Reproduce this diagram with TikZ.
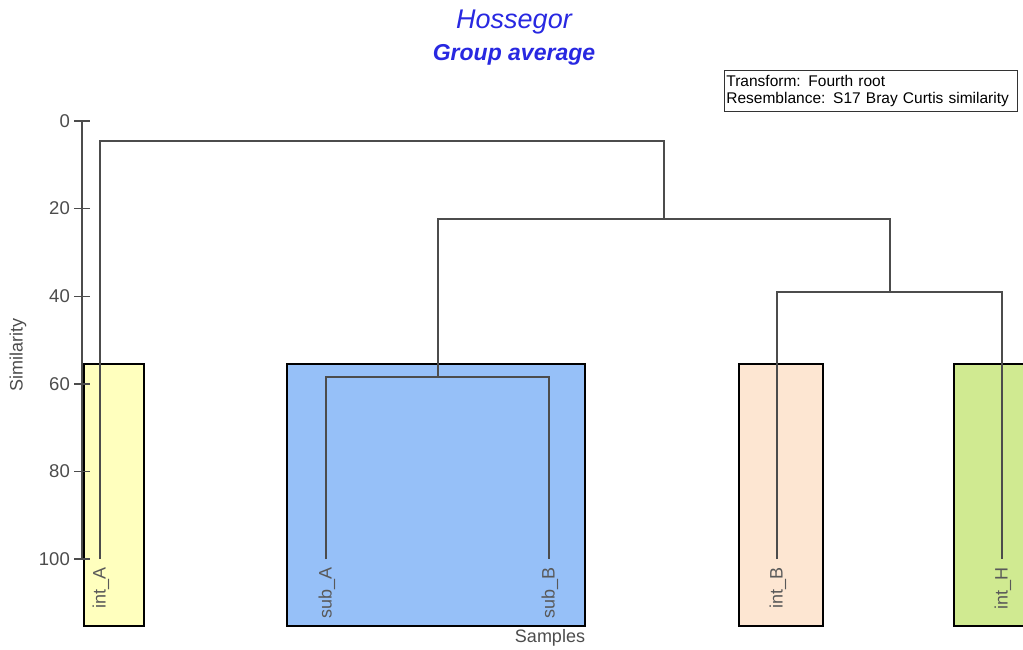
\documentclass[tikz,border=0pt]{standalone}
\usepackage{fontspec}
\setmainfont{Liberation Sans}
\begin{document}
\begin{tikzpicture}[x=1pt,y=-1pt,
  dline/.style={draw=black!70,line width=1.4pt},
  grp/.style={draw=black,line width=1.1pt},
  axlab/.style={font=\fontsize{18.5}{18.5}\selectfont,text=black!70,anchor=east,inner sep=0pt},
  leaflab/.style={font=\fontsize{18}{18}\selectfont,text=black!65,rotate=90,anchor=east,inner sep=0pt}]
\useasboundingbox (0,0) rectangle (1023,650);
% titles
\node[text={rgb,255:red,40;green,40;blue,225},font=\fontsize{27}{27}\selectfont\itshape] (title) at (514,22) {Hossegor};
\node[text={rgb,255:red,40;green,40;blue,225},font=\fontsize{23}{23}\selectfont\bfseries\itshape] (subtitle) at (514,55) {Group average};
\node[draw=black!80,line width=0.8pt,align=left,anchor=north west,inner xsep=2pt,inner ysep=2pt,font=\fontsize{15.5}{17.5}\selectfont,text width=289pt,minimum height=41pt] (legend) at (724,70) {\mbox{Transform: Fourth root}\\\mbox{Resemblance: S17 Bray Curtis similarity}};
% group boxes
\fill[fill={rgb,255:red,255;green,255;blue,190}] (84,364) rectangle (144,626);
\fill[fill={rgb,255:red,150;green,192;blue,248}] (287,364) rectangle (585,626);
\fill[fill={rgb,255:red,253;green,230;blue,210}] (739,364) rectangle (823,626);
\fill[fill={rgb,255:red,208;green,234;blue,145}] (954,364) rectangle (1026,626);
\draw[grp] (84,364) rectangle (144,626);
\draw[grp] (287,364) rectangle (585,626);
\draw[grp] (739,364) rectangle (823,626);
\draw[grp] (954,364) rectangle (1026,626);
% axis
\coordinate (ax0) at (82,121);
\coordinate (ax100) at (82,559);
\draw[black!70,line width=1.4pt] (ax0) -- (ax100);
\foreach \v/\y in {0/121,20/208.6,40/296.2,60/383.8,80/471.4,100/559}{
  \draw[black!70,line width=1.4pt] (74,\y) -- (90,\y);
  \node[axlab] (t\v) at (70,\y) {\v};
}
\node[font=\fontsize{18}{18}\selectfont,text=black!70,rotate=90] (ylab) at (18,355) {Similarity};
\node[font=\fontsize{18}{18}\selectfont,text=black!70] (xlab) at (550,638) {Samples};
% leaves
\coordinate (intA) at (100,559);
\coordinate (subA) at (326,559);
\coordinate (subB) at (549,559);
\coordinate (intB) at (777,559);
\coordinate (intH) at (1002,559);
% junctions
\coordinate (jsub) at (438,377);
\coordinate (jint) at (890,292);
\coordinate (jmid) at (664,219);
\coordinate (jtop) at (382,141);
\draw[dline] (subA) |- (jsub) -| (subB);
\draw[dline] (intB) |- (jint) -| (intH);
\draw[dline] (jsub) |- (jmid) -| (jint);
\draw[dline] (intA) |- (jtop) -| (jmid);
% leaf labels
\node[leaflab] (lA) at (101,567) {int\_A};
\node[leaflab] (lsA) at (327,567) {sub\_A};
\node[leaflab] (lsB) at (550,567) {sub\_B};
\node[leaflab] (lB) at (778,567) {int\_B};
\node[leaflab] (lH) at (1003,567) {int\_H};
\end{tikzpicture}
\end{document}
